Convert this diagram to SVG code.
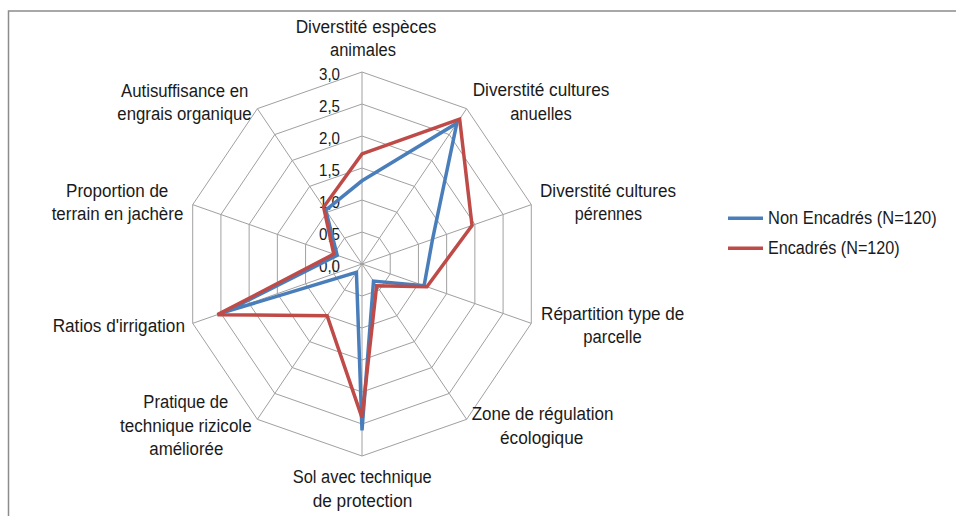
<svg xmlns="http://www.w3.org/2000/svg" width="956" height="516" viewBox="0 0 956 516">
<style>
  .bg{fill:#ffffff}
  .frame{fill:none;stroke:#8c8c8c;stroke-width:1.5}
  .grid{fill:none;stroke:#a0a0a0;stroke-width:1}
  .lbl{font-family:"Liberation Sans",Arial,sans-serif;font-size:18px;fill:#1a1a1a;text-anchor:middle}
  .tick{font-family:"Liberation Sans",Arial,sans-serif;font-size:17px;fill:#1a1a1a;text-anchor:end}
  .leg{font-family:"Liberation Sans",Arial,sans-serif;font-size:18px;fill:#1a1a1a}
  .s1{fill:none;stroke:#4a7ebb;stroke-width:3.5;stroke-linejoin:miter}
  .s2{fill:none;stroke:#be4b48;stroke-width:3.5;stroke-linejoin:miter}
</style>
<rect class="bg" x="0" y="0" width="956" height="516"/>
<path class="frame" d="M8.5 516 V11 H956"/>

<g id="grid">
  <polygon class="grid" points="362,232 379.44,238.11 390.22,254.11 390.22,273.89 379.44,289.89 362,296 344.56,289.89 333.78,273.89 333.78,254.11 344.56,238.11"/>
  <polygon class="grid" points="362,200 396.88,212.22 418.43,244.22 418.43,283.78 396.88,315.78 362,328 327.12,315.78 305.57,283.78 305.57,244.22 327.12,212.22"/>
  <polygon class="grid" points="362,168 414.31,186.34 446.65,234.34 446.65,293.66 414.31,341.66 362,360 309.69,341.66 277.35,293.66 277.35,234.34 309.69,186.34"/>
  <polygon class="grid" points="362,136 431.75,160.45 474.86,224.45 474.86,303.55 431.75,367.55 362,392 292.25,367.55 249.14,303.55 249.14,224.45 292.25,160.45"/>
  <polygon class="grid" points="362,104 449.19,134.56 503.08,214.56 503.08,313.44 449.19,393.44 362,424 274.81,393.44 220.92,313.44 220.92,214.56 274.81,134.56"/>
  <polygon class="grid" points="362,72 466.63,108.67 531.29,204.67 531.29,323.33 466.63,419.33 362,456 257.37,419.33 192.71,323.33 192.71,204.67 257.37,108.67"/>
  <path class="grid" d="M362 264 L362 72 M362 264 L466.63 108.67 M362 264 L531.29 204.67 M362 264 L531.29 323.33 M362 264 L466.63 419.33 M362 264 L362 456 M362 264 L257.37 419.33 M362 264 L192.71 323.33 M362 264 L192.71 204.67 M362 264 L257.37 108.67"/>
</g>

<g id="ticks">
  <text class="tick" x="340" y="271.5" textLength="21" lengthAdjust="spacingAndGlyphs">0,0</text>
  <text class="tick" x="340" y="239.5" textLength="21" lengthAdjust="spacingAndGlyphs">0,5</text>
  <text class="tick" x="340" y="207.5" textLength="21" lengthAdjust="spacingAndGlyphs">1,0</text>
  <text class="tick" x="340" y="175.5" textLength="21" lengthAdjust="spacingAndGlyphs">1,5</text>
  <text class="tick" x="340" y="143.5" textLength="21" lengthAdjust="spacingAndGlyphs">2,0</text>
  <text class="tick" x="340" y="111.5" textLength="21" lengthAdjust="spacingAndGlyphs">2,5</text>
  <text class="tick" x="340" y="79.5" textLength="21" lengthAdjust="spacingAndGlyphs">3,0</text>
</g>

<g id="connectors">
  <polygon id="series-non-encadres" class="s1" points="362,180.8 456.86,123.17 432.54,239.28 424.07,285.75 373.51,281.09 362,430.4 356.42,272.28 223.74,312.45 337.17,255.3 325.73,210.15"/>
  <polygon id="series-encadres" class="s2" points="362,153.92 459.65,119.03 472.04,225.44 426.9,286.74 376.65,285.75 362,417.6 327.12,315.78 217.54,314.63 333.78,254.11 323.64,207.05"/>
</g>

<g id="axis-especes">
  <text class="lbl" x="366" y="32.5" textLength="140.7" lengthAdjust="spacingAndGlyphs">Diverstité espèces</text>
  <text class="lbl" x="363" y="55.5" textLength="66" lengthAdjust="spacingAndGlyphs">animales</text>
</g>
<g id="axis-anuelles">
  <text class="lbl" x="541" y="96" textLength="136.7" lengthAdjust="spacingAndGlyphs">Diverstité cultures</text>
  <text class="lbl" x="541" y="119.5" textLength="61.7" lengthAdjust="spacingAndGlyphs">anuelles</text>
</g>
<g id="axis-perennes">
  <text class="lbl" x="608" y="196.5" textLength="136" lengthAdjust="spacingAndGlyphs">Diverstité cultures</text>
  <text class="lbl" x="608.5" y="220" textLength="67.3" lengthAdjust="spacingAndGlyphs">pérennes</text>
</g>
<g id="axis-repartition">
  <text class="lbl" x="612.7" y="320" textLength="143.3" lengthAdjust="spacingAndGlyphs">Répartition type de</text>
  <text class="lbl" x="612.5" y="343.3" textLength="58.3" lengthAdjust="spacingAndGlyphs">parcelle</text>
</g>
<g id="axis-zone">
  <text class="lbl" x="542.5" y="420" textLength="141.7" lengthAdjust="spacingAndGlyphs">Zone de régulation</text>
  <text class="lbl" x="541.7" y="443.5" textLength="83.3" lengthAdjust="spacingAndGlyphs">écologique</text>
</g>
<g id="axis-sol">
  <text class="lbl" x="362.2" y="483.3" textLength="139" lengthAdjust="spacingAndGlyphs">Sol avec technique</text>
  <text class="lbl" x="362.5" y="506.7" textLength="99.7" lengthAdjust="spacingAndGlyphs">de protection</text>
</g>
<g id="axis-pratique">
  <text class="lbl" x="185.8" y="407.7" textLength="85" lengthAdjust="spacingAndGlyphs">Pratique de</text>
  <text class="lbl" x="185.8" y="431.5" textLength="131.7" lengthAdjust="spacingAndGlyphs">technique rizicole</text>
  <text class="lbl" x="186.3" y="455" textLength="74" lengthAdjust="spacingAndGlyphs">améliorée</text>
</g>
<g id="axis-ratios">
  <text class="lbl" x="118.8" y="331.7" textLength="132.3" lengthAdjust="spacingAndGlyphs">Ratios d'irrigation</text>
</g>
<g id="axis-proportion">
  <text class="lbl" x="117.2" y="196.7" textLength="102.3" lengthAdjust="spacingAndGlyphs">Proportion de</text>
  <text class="lbl" x="117.5" y="219.5" textLength="131.7" lengthAdjust="spacingAndGlyphs">terrain en jachère</text>
</g>
<g id="axis-autisuffisance">
  <text class="lbl" x="184.7" y="96.7" textLength="127.3" lengthAdjust="spacingAndGlyphs">Autisuffisance en</text>
  <text class="lbl" x="184.5" y="119.5" textLength="134.3" lengthAdjust="spacingAndGlyphs">engrais organique</text>
</g>

<g id="legend">
  <line class="s1" x1="728" y1="218.3" x2="763" y2="218.3"/>
  <text class="leg" x="768" y="223.8" textLength="168.7" lengthAdjust="spacingAndGlyphs">Non Encadrés (N=120)</text>
  <line class="s2" x1="728" y1="248.3" x2="763" y2="248.3"/>
  <text class="leg" x="768" y="253.8" textLength="131.7" lengthAdjust="spacingAndGlyphs">Encadrés (N=120)</text>
</g>
</svg>
